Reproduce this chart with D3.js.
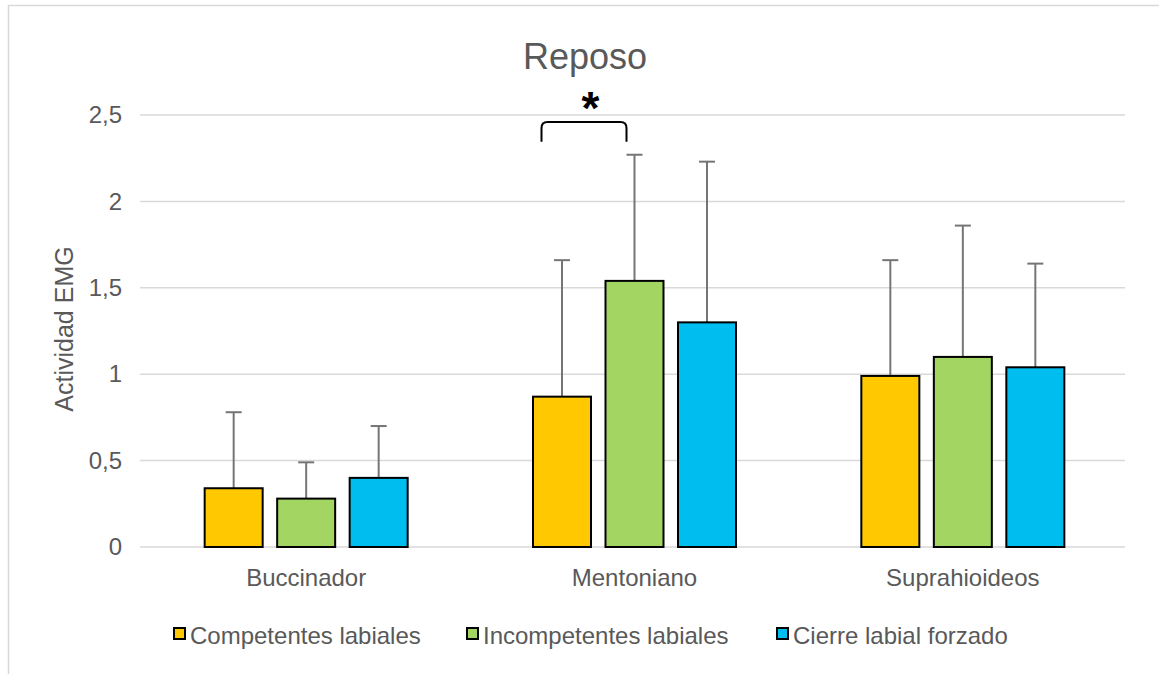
<!DOCTYPE html>
<html>
<head>
<meta charset="utf-8">
<script src="https://cdn.jsdelivr.net/npm/d3@7"></script>
<style>
  html, body { margin: 0; padding: 0; background: #ffffff; }
  svg { display: block; font-family: "Liberation Sans", Arial, sans-serif; }
</style>
</head>
<body>
<svg id="chart" width="1159" height="674"></svg>
<script>
// Muscle groups on the x axis
const categories = ["Buccinador", "Mentoniano", "Suprahioideos"];
// Study groups (series)
const seriesNames = ["Competentes labiales", "Incompetentes labiales", "Cierre labial forzado"];
const seriesColors = ["#ffc800", "#a2d562", "#00bdf0"];
// Mean EMG activity per muscle, one array per group
const competentes = [0.34, 0.87, 0.99];
const incompetentes = [0.28, 1.54, 1.10];
const cierreForzado = [0.40, 1.30, 1.04];
// Upper end of the error bar (mean + SD)
const competentesErr = [0.78, 1.66, 1.66];
const incompetentesErr = [0.49, 2.27, 1.86];
const cierreForzadoErr = [0.70, 2.23, 1.64];
// Axis ticks
const yTicks = [0, 0.5, 1, 1.5, 2, 2.5];
const yTickLabels = ["0", "0,5", "1", "1,5", "2", "2,5"];

const values = [competentes, incompetentes, cierreForzado];
const errors = [competentesErr, incompetentesErr, cierreForzadoErr];

const svg = d3.select("#chart");
const textColor = "#595959";
const gridColor = "#d9d9d9";

// Outer chart frame
svg.append("path")
  .attr("d", "M8.5,674 V5.5 H1159")
  .attr("fill", "none").attr("stroke", gridColor).attr("stroke-width", 1.5);

const plot = { left: 140, right: 1125, top: 115, bottom: 547 };

const x = d3.scaleBand().domain(categories).range([plot.left + 2, plot.right + 2]).paddingInner(0).paddingOuter(0);
const y = d3.scaleLinear().domain([0, 2.5]).range([plot.bottom, plot.top]);

const barW = 58, barStep = 72.5;
const barX = (ci, si) => x(categories[ci]) + x.bandwidth() / 2 + (si - 1) * barStep;

// Gridlines
svg.append("g").selectAll("line").data(yTicks).join("line")
  .attr("x1", plot.left).attr("x2", plot.right)
  .attr("y1", d => y(d)).attr("y2", d => y(d))
  .attr("stroke", gridColor).attr("stroke-width", 1.5);

// Y axis tick labels
const yAxis = d3.axisLeft(y).tickValues(yTicks)
  .tickFormat((d, i) => yTickLabels[i]).tickSize(0).tickPadding(18);
const gy = svg.append("g").attr("transform", `translate(${plot.left},0)`).call(yAxis);
gy.select(".domain").remove();
gy.selectAll("text").attr("fill", textColor).style("font-size", "24px")
  .style("font-family", "Liberation Sans, Arial, sans-serif");

// X axis category labels
const xAxis = d3.axisBottom(x).tickSize(0).tickPadding(22);
const gx = svg.append("g").attr("transform", `translate(0,${plot.bottom})`).call(xAxis);
gx.select(".domain").remove();
gx.selectAll("text").attr("fill", textColor).style("font-size", "24px")
  .style("font-family", "Liberation Sans, Arial, sans-serif");

// Bars and error bars
const flat = [];
values.forEach((arr, si) => arr.forEach((v, ci) => flat.push({ si, ci, v, e: errors[si][ci] })));

svg.append("g").selectAll("line").data(flat).join("line")
  .attr("x1", d => barX(d.ci, d.si)).attr("x2", d => barX(d.ci, d.si))
  .attr("y1", d => y(d.v)).attr("y2", d => y(d.e))
  .attr("stroke", "#757575").attr("stroke-width", 2);
svg.append("g").selectAll("line").data(flat).join("line")
  .attr("x1", d => barX(d.ci, d.si) - 8).attr("x2", d => barX(d.ci, d.si) + 8)
  .attr("y1", d => y(d.e)).attr("y2", d => y(d.e))
  .attr("stroke", "#757575").attr("stroke-width", 2);

svg.append("g").selectAll("rect").data(flat).join("rect")
  .attr("x", d => barX(d.ci, d.si) - barW / 2)
  .attr("y", d => y(d.v))
  .attr("width", barW)
  .attr("height", d => y(0) - y(d.v))
  .attr("fill", d => seriesColors[d.si])
  .attr("stroke", "#000").attr("stroke-width", 2);

// Significance bracket over Mentoniano
const mc = x("Mentoniano") + x.bandwidth() / 2;
const bx1 = mc - 93, bx2 = mc - 8, byTop = y(2.46), byBot = y(2.345), r = 6;
svg.append("path")
  .attr("d", `M${bx1},${byBot} V${byTop + r} Q${bx1},${byTop} ${bx1 + r},${byTop} H${bx2 - r} Q${bx2},${byTop} ${bx2},${byTop + r} V${byBot}`)
  .attr("fill", "none").attr("stroke", "#000").attr("stroke-width", 2);
svg.append("text").attr("x", mc - 44).attr("y", 124)
  .attr("text-anchor", "middle").attr("fill", "#000")
  .style("font-size", "46px").style("font-weight", "bold").text("*");

// Title
svg.append("text").attr("x", 585).attr("y", 69).attr("text-anchor", "middle")
  .attr("fill", textColor).style("font-size", "36px").text("Reposo");

// Y axis title
svg.append("text").attr("transform", `translate(73,${(plot.top + plot.bottom) / 2 - 2}) rotate(-90)`)
  .attr("text-anchor", "middle").attr("fill", textColor).style("font-size", "25px").text("Actividad EMG");

// Legend
const legendX = [173, 466, 776];
const lg = svg.append("g").selectAll("g").data(seriesNames).join("g")
  .attr("transform", (d, i) => `translate(${legendX[i]},627)`);
lg.append("rect").attr("x", 1).attr("y", 1).attr("width", 11).attr("height", 11)
  .attr("fill", (d, i) => seriesColors[i]).attr("stroke", "#000").attr("stroke-width", 2);
lg.append("text").attr("x", 17).attr("y", 17).attr("fill", textColor)
  .style("font-size", "24px").text(d => d);
</script>
</body>
</html>
